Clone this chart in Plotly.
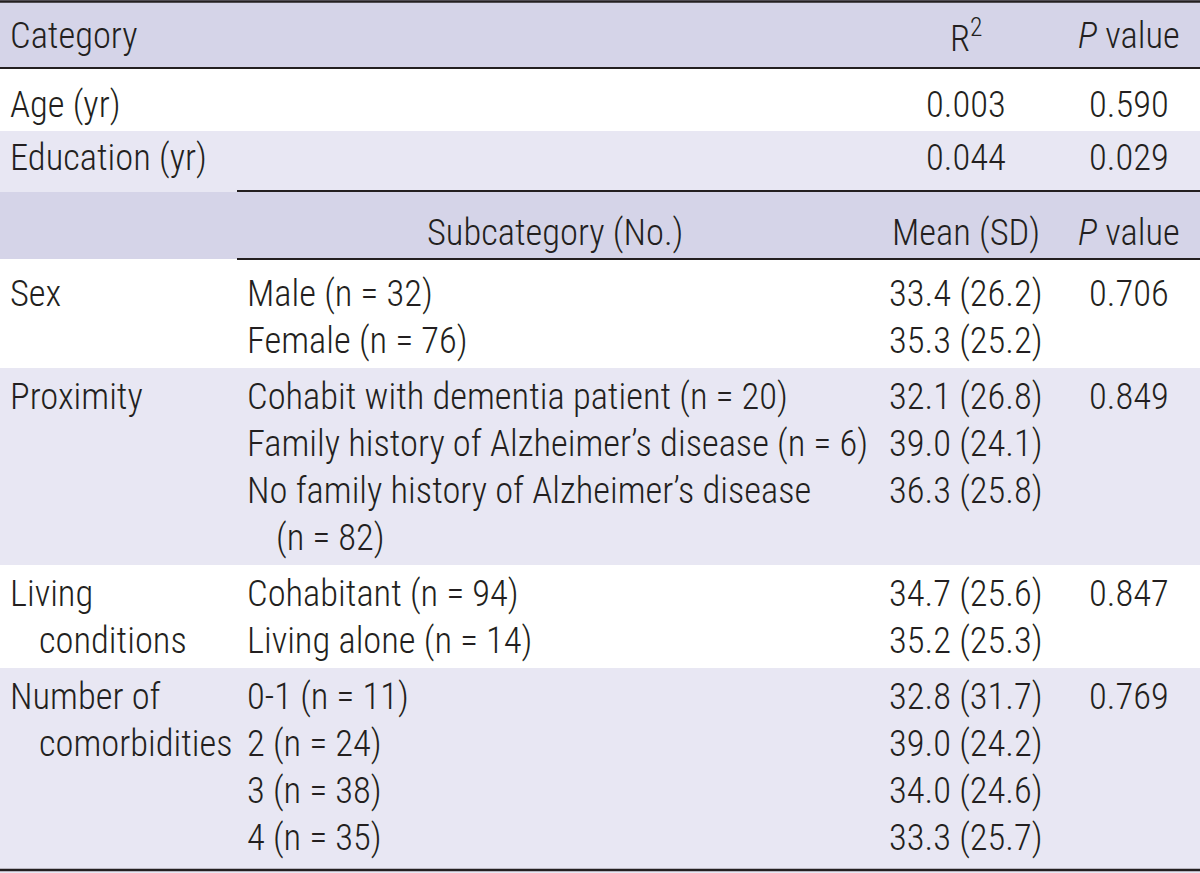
import plotly.graph_objects as go

W, H = 1200, 873

# ---------------- data ----------------
header_cols = ["Category", "R<sup>2</sup>", "<i>P</i> value"]
cont_vars = ["Age (yr)", "Education (yr)"]
cont_r2 = ["0.003", "0.044"]
cont_p = ["0.590", "0.029"]
sub_header = ["Subcategory (No.)", "Mean (SD)", "<i>P</i> value"]

group_labels = [["Sex"], ["Proximity"], ["Living", "conditions"], ["Number of", "comorbidities"]]
subcats = [
    [["Male (n = 32)"], ["Female (n = 76)"]],
    [["Cohabit with dementia patient (n = 20)"],
     ["Family history of Alzheimer\u2019s disease (n = 6)"],
     ["No family history of Alzheimer\u2019s disease", "(n = 82)"]],
    [["Cohabitant (n = 94)"], ["Living alone (n = 14)"]],
    [["0-1 (n = 11)"], ["2 (n = 24)"], ["3 (n = 38)"], ["4 (n = 35)"]],
]
means = [[33.4, 35.3], [32.1, 39.0, 36.3], [34.7, 35.2], [32.8, 39.0, 34.0, 33.3]]
sds = [[26.2, 25.2], [26.8, 24.1, 25.8], [25.6, 25.3], [31.7, 24.2, 24.6, 25.7]]
group_p = ["0.706", "0.849", "0.847", "0.769"]

# ---------------- layout constants ----------------
FONT = "Roboto Condensed, Liberation Sans Narrow, DejaVu Sans Condensed, sans-serif"
FS = 36.5
WEIGHT = 300
TXT = "#231f20"
SHADE_DARK = "#d5d4e8"
SHADE_LIGHT = "#e8e7f3"
X_CAT, X_SUB, INDENT = 8, 245, 29
X_C3, X_C4 = 966, 1129
X_RULE = 237
PITCH = 47
BASE_OFF = 0.34 * FS  # baseline -> text centre

shapes = []
annotations = []


def rect(y0, y1, color):
    shapes.append(dict(type="rect", xref="x", yref="y", x0=0, x1=W, y0=y0, y1=y1,
                       fillcolor=color, line=dict(width=0), layer="below"))


def rule(y, x0=0, width=2):
    shapes.append(dict(type="line", xref="x", yref="y", x0=x0, x1=W, y0=y, y1=y,
                       line=dict(color=TXT, width=width)))


def text(x, baseline, s, anchor="left"):
    annotations.append(dict(x=x, y=baseline - BASE_OFF, xref="x", yref="y", text=s,
                            showarrow=False, xanchor=anchor, yanchor="middle",
                            font=dict(family=FONT, size=FS, color=TXT, weight=WEIGHT)))


# header
rect(0, 68, SHADE_DARK)
text(X_CAT, 48, header_cols[0])
text(X_C3, 48, header_cols[1], "center")
text(X_C4, 48, header_cols[2], "center")

# continuous vars
cont_rows = [(68, 131, None, 117), (131, 192, SHADE_LIGHT, 170)]
for (y0, y1, col, base), name, r2, p in zip(cont_rows, cont_vars, cont_r2, cont_p):
    if col:
        rect(y0, y1, col)
    text(X_CAT, base, name)
    text(X_C3, base, r2, "center")
    text(X_C4, base, p, "center")

# sub header
rect(192, 259, SHADE_DARK)
text((X_RULE + 873) / 2, 245, sub_header[0], "center")
text(X_C3, 245, sub_header[1], "center")
text(X_C4, 245, sub_header[2], "center")

# groups
top = 259
for gi, (labels, items) in enumerate(zip(group_labels, subcats)):
    first = top + (47 if gi == 0 else 41)
    nlines = sum(len(it) for it in items)
    bottom = first + (nlines - 1) * PITCH + 15
    if gi % 2 == 1:
        rect(top, bottom if gi < len(subcats) - 1 else H, SHADE_LIGHT)
    for li, lab in enumerate(labels):
        text(X_CAT + (INDENT if li > 0 else 0), first + li * PITCH, lab)
    line_i = 0
    for ii, it in enumerate(items):
        for k, seg in enumerate(it):
            text(X_SUB + (INDENT if k > 0 else 0), first + (line_i + k) * PITCH, seg)
        text(X_C3, first + line_i * PITCH, f"{means[gi][ii]:.1f} ({sds[gi][ii]:.1f})", "center")
        line_i += len(it)
    text(X_C4, first, group_p[gi], "center")
    top = bottom

# rules
rule(1.5, width=2.5)
rule(68, width=2)
rule(191, x0=X_RULE, width=2)
rule(259, x0=X_RULE, width=2)
rule(870, width=2.5)

fig = go.Figure()
fig.add_trace(go.Scatter(x=[0, W], y=[0, H], mode="markers", marker=dict(opacity=0),
                         hoverinfo="skip", showlegend=False))
fig.update_layout(
    width=W, height=H, margin=dict(l=0, r=0, t=0, b=0),
    paper_bgcolor="white", plot_bgcolor="white",
    xaxis=dict(range=[0, W], visible=False, fixedrange=True),
    yaxis=dict(range=[H, 0], visible=False, fixedrange=True),
    shapes=shapes, annotations=annotations, showlegend=False,
)
fig.write_html("out.html", config={"displayModeBar": False},
               post_script="document.body.style.margin='0';")
